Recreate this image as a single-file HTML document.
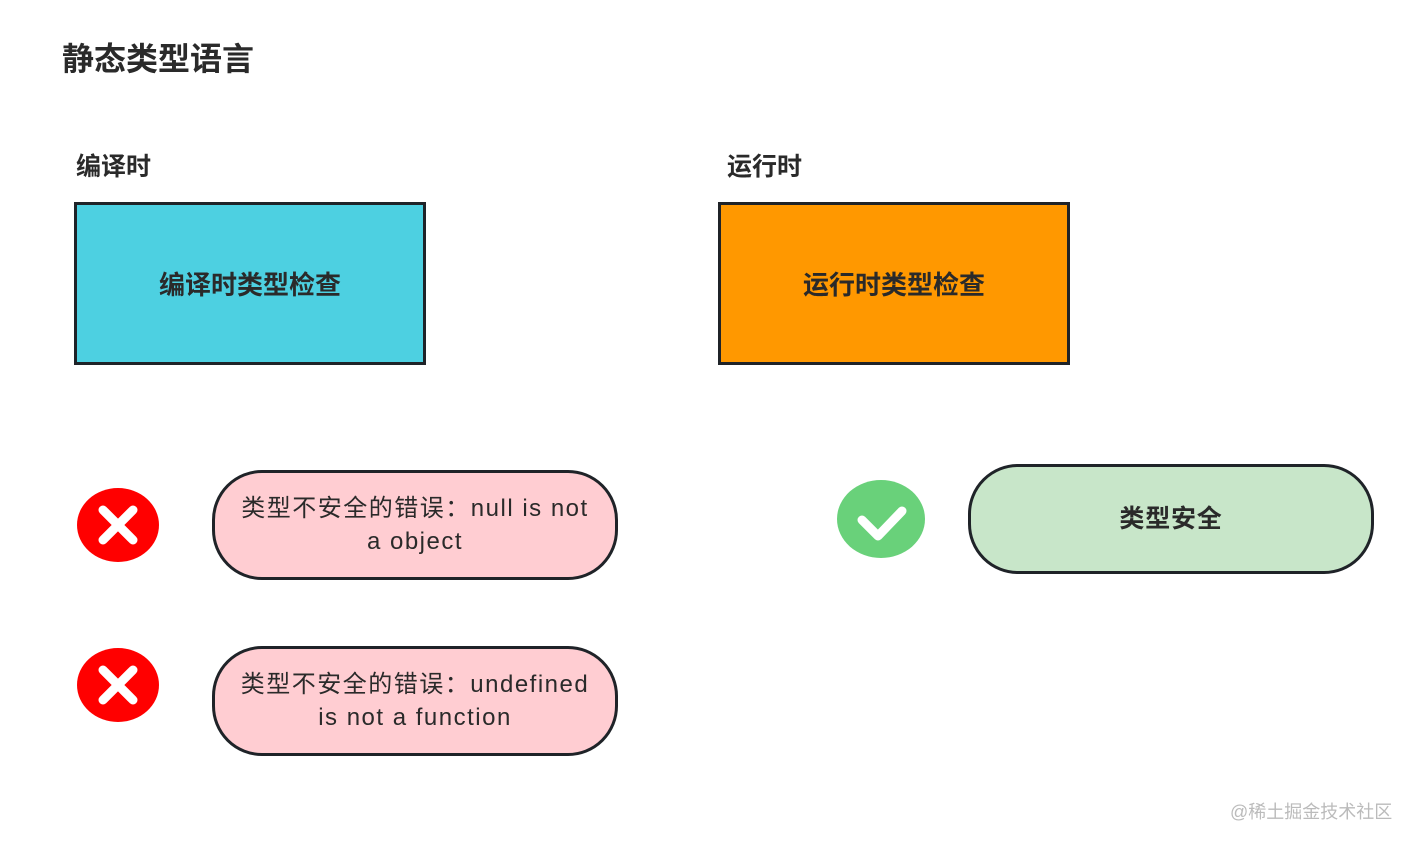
<!DOCTYPE html>
<html><head><meta charset="utf-8"><style>
body{margin:0;width:1414px;height:844px;background:#fff;position:relative;overflow:hidden;font-family:"Liberation Sans","Noto Sans CJK SC",sans-serif;color:#2a2a2a}
.a{position:absolute}
.t{font-weight:bold}
.box{position:absolute;border:3px solid #1f2328;box-sizing:border-box;display:flex;align-items:center;justify-content:center;font-size:26px;font-weight:bold;color:#2a2a2a}
.pill{position:absolute;border:3px solid #1f2328;box-sizing:border-box;border-radius:50px;display:flex;align-items:center;justify-content:center;text-align:center;font-size:24px;letter-spacing:1.5px;line-height:33px;color:#2a2a2a}
</style></head><body>
<div class="a t" style="left:62px;top:34px;font-size:32px">静态类型语言</div>
<div class="a t" style="left:76px;top:147px;font-size:25px">编译时</div>
<div class="a t" style="left:727px;top:147px;font-size:25px">运行时</div>
<div class="box" style="left:74px;top:202px;width:352px;height:163px;background:#4dd0e1">编译时类型检查</div>
<div class="box" style="left:718px;top:202px;width:352px;height:163px;background:#ff9800">运行时类型检查</div>
<svg class="a" style="left:76px;top:487px" width="86" height="76"><ellipse cx="42" cy="38" rx="41" ry="37" fill="#f00"/><path d="M27 23L57 53M57 23L27 53" stroke="#fff" stroke-width="9" stroke-linecap="round"/></svg>
<svg class="a" style="left:76px;top:647px" width="86" height="76"><ellipse cx="42" cy="38" rx="41" ry="37" fill="#f00"/><path d="M27 23L57 53M57 23L27 53" stroke="#fff" stroke-width="9" stroke-linecap="round"/></svg>
<svg class="a" style="left:836px;top:478px" width="92" height="82"><ellipse cx="45" cy="41" rx="44" ry="39" fill="#69d17a"/><path d="M26 42L42 58L66 33" stroke="#fff" stroke-width="9" stroke-linecap="round" stroke-linejoin="round" fill="none"/></svg>
<div class="pill" style="left:212px;top:470px;width:406px;height:110px;background:#ffcdd2">类型不安全的错误：null is not<br>a object</div>
<div class="pill" style="left:212px;top:646px;width:406px;height:110px;background:#ffcdd2">类型不安全的错误：undefined<br>is not a function</div>
<div class="pill" style="left:968px;top:464px;width:406px;height:110px;background:#c8e6c9;font-weight:bold;font-size:25px;letter-spacing:0.8px">类型安全</div>
<div class="a" style="left:1230px;top:798px;font-size:18px;color:#bbb">@稀土掘金技术社区</div>
</body></html>
